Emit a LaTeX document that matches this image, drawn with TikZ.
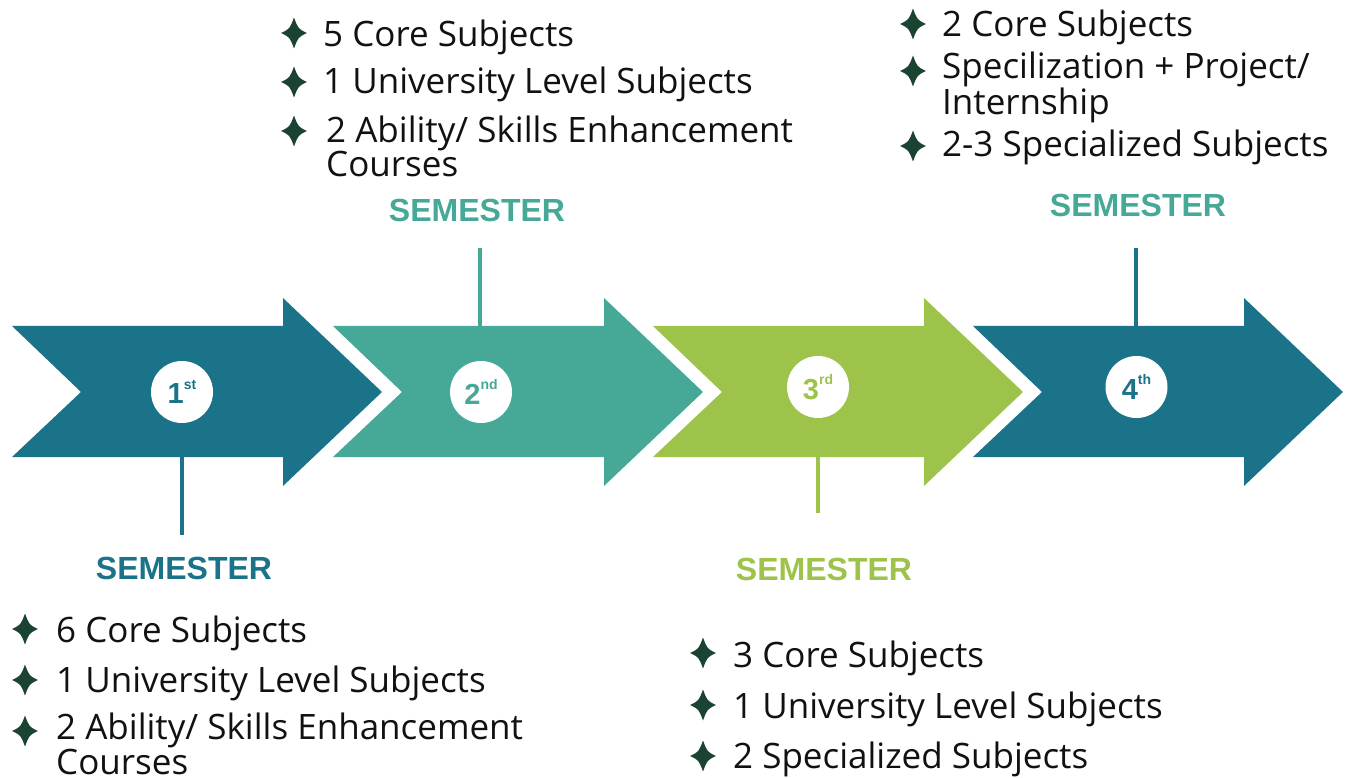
\documentclass[tikz,border=0pt]{standalone}
\usepackage{fontspec}
\setmainfont{Open Sans}
\newfontfamily\semfont{Liberation Sans}
\definecolor{cdark}{HTML}{1B738A}
\definecolor{cteal}{HTML}{46A896}
\definecolor{clime}{HTML}{9DC34A}
\definecolor{cstar}{HTML}{1A4331}
\definecolor{ctext}{HTML}{111111}
\tikzset{
  sparkle/.pic={\fill[cstar] (0,-15.5) .. controls (4.2,-4.2) .. (13,0) .. controls (4.2,4.2) .. (0,15.5) .. controls (-4.2,4.2) .. (-13,0) .. controls (-4.2,-4.2) .. (0,-15.5) -- cycle;},
  item/.style={anchor=base west, inner sep=0pt, text=ctext, font=\fontsize{35}{33}\selectfont, align=left},
  semlabel/.style={anchor=base, inner sep=0pt, font=\semfont\bfseries\fontsize{32}{32}\selectfont},
  badge/.style={circle, fill=white, minimum size=62pt, inner sep=0pt, font=\semfont\bfseries\fontsize{29}{29}\selectfont},
  conn/.style={line width=4pt},
}
\newcommand{\arrowshape}[2]{%
  \fill[#2] (#1,326) -- ++(271,0) -- ++(0,-28) -- ++(99,94) -- ++(-99,94) -- ++(0,-29) -- ++(-271,0) -- ++(69,-65) -- cycle;}
\newcommand{\ordsup}[1]{\raisebox{0.5em}{\fontsize{14}{14}\selectfont #1}}
\begin{document}
\begin{tikzpicture}[x=1pt,y=-1pt]
\useasboundingbox (0,0) rectangle (1345,778);
% arrows
\arrowshape{12}{cdark}
\arrowshape{333}{cteal}
\arrowshape{653}{clime}
\arrowshape{973}{cdark}
% badges
\node[badge, text=cdark] (c1) at (182,392) {1\ordsup{st}};
\node[badge, text=cteal] (c2) at (481,392) {2\ordsup{nd}};
\node[badge, text=clime] (c3) at (818,387) {3\ordsup{rd}};
\node[badge, text=cdark] (c4) at (1136.5,387) {4\ordsup{th}};
% connector end points
\coordinate (a1) at (182,457);   \coordinate (e1) at (182,535);
\coordinate (a2) at (480,326);   \coordinate (e2) at (480,248);
\coordinate (a3) at (818,457);   \coordinate (e3) at (818,513);
\coordinate (a4) at (1136,326);  \coordinate (e4) at (1136,248);
\draw[conn, cdark] (a1) -- (e1);
\draw[conn, cteal] (a2) -- (e2);
\draw[conn, clime] (a3) -- (e3);
\draw[conn, cdark] (a4) -- (e4);
% semester labels
\node[semlabel, text=cdark] (s1) at (184,579) {SEMESTER};
\node[semlabel, text=cteal] (s2) at (477,222) {SEMESTER};
\node[semlabel, text=clime] (s3) at (824,580) {SEMESTER};
\node[semlabel, text=cteal] (s4) at (1138,217) {SEMESTER};
% group 1
\pic at (25,629) {sparkle};
\pic at (25,680) {sparkle};
\pic at (25,731) {sparkle};
\node[item] (g1a) at (56,642) {6 Core Subjects};
\node[item] (g1b) at (56,692) {1 University Level Subjects};
\node[item] (g1c) at (56,774) {2 Ability/ Skills Enhancement\\Courses};
% group 2
\pic at (294,33) {sparkle};
\pic at (294,82) {sparkle};
\pic at (294,131) {sparkle};
\node[item] (g2a) at (323,47) {5 Core Subjects};
\node[item] (g2b) at (323,94) {1 University Level Subjects};
\node[item] (g2c) at (326,177) {2 Ability/ Skills Enhancement\\Courses};
% group 3
\pic at (703,653) {sparkle};
\pic at (703,705) {sparkle};
\pic at (703,756) {sparkle};
\node[item] (g3a) at (733,667) {3 Core Subjects};
\node[item] (g3b) at (733,718) {1 University Level Subjects};
\node[item] (g3c) at (733,768) {2 Specialized Subjects};
% group 4
\pic at (913,24) {sparkle};
\pic at (913,71) {sparkle};
\pic at (913,146) {sparkle};
\node[item] (g4a) at (942,37) {2 Core Subjects};
\node[item] (g4b) at (942,115) {Specilization + Project/\\Internship};
\node[item] (g4c) at (942,157) {2-3 Specialized Subjects};
\end{tikzpicture}
\end{document}
